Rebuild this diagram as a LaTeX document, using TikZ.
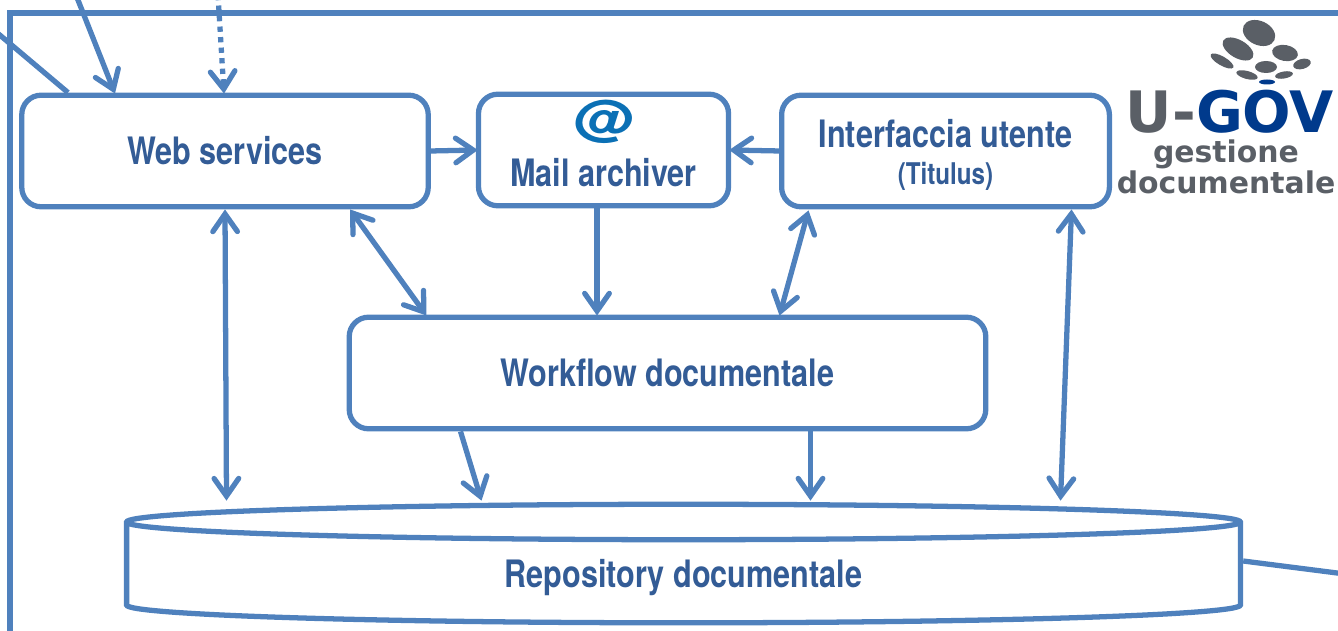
\documentclass[tikz,border=0pt]{standalone}
\usepackage{fontspec}
\setmainfont{TeX Gyre Heros}
\newfontfamily\logofont{DejaVu Sans}
\usetikzlibrary{arrows.meta,shapes.geometric}
\definecolor{linecol}{HTML}{4F81BD}
\definecolor{textcol}{HTML}{335C96}
\definecolor{logogray}{HTML}{5A5F66}
\definecolor{logoblue}{HTML}{003A8C}
\definecolor{atblue}{HTML}{0B70B5}
\newcommand{\narrow}[1]{\scalebox{0.81}[1]{#1}}
\tikzset{
    box/.style={draw=linecol, line width=3pt, rounded corners=11pt, fill=white, align=center, text=textcol, font=\bfseries\fontsize{21.5}{25}\selectfont},
    line/.style={draw=linecol, line width=3pt},
    arrow/.style={line, -{Straight Barb[length=10pt,width=14pt,line cap=round]}},
    biarrow/.style={line, {Straight Barb[length=10pt,width=14pt,line cap=round]}-{Straight Barb[length=10pt,width=14pt,line cap=round]}},
    logoblob/.style={fill=logogray, draw=none}
}

\begin{document}
\begin{tikzpicture}[x=0.02cm, y=-0.02cm]
    \useasboundingbox (0,0) rectangle (1338,631);
    \clip (0,0) rectangle (1338,631);
    % frame
    \coordinate (framebl) at (10,640);
    \coordinate (frametl) at (10,13);
    \coordinate (frametr) at (1345,13);
    \draw[line] (framebl) -- (frametl) -- (frametr);
    % nodes
    \node (web) [box, minimum width=408*0.567pt, minimum height=112*0.567pt] at (225,151) {\narrow{Web services}};
    \node (mail) [box, minimum width=251*0.567pt, minimum height=112*0.567pt] at (603.5,150) {\\[17pt]\narrow{Mail archiver}};
    \node (mailicon) [text=atblue, font=\bfseries\fontsize{28}{28}\selectfont, inner sep=0pt] at (603,122) {\scalebox{1.25}[1]{@}};
    \node (gui) [box, minimum width=329*0.567pt, minimum height=112*0.567pt] at (945.5,151) {\\[-5pt]\narrow{Interfaccia utente}\\[-4pt]{\fontsize{17}{18}\selectfont \narrow{(Titulus)}}};
    \node (flow) [box, minimum width=639*0.567pt, minimum height=112*0.567pt] at (667.5,373) {\narrow{Workflow documentale}};
    \node (repo) [cylinder, shape border rotate=90, shape aspect=0.096, draw=linecol, line width=3pt, fill=white, text=textcol, align=center, font=\bfseries\fontsize{21.5}{25}\selectfont, minimum width=1118*0.567pt, minimum height=119*0.567pt] at (683.5,575) {\\[-6pt]\narrow{Repository documentale}};
    % logo
    \fill[logoblob] (1259,33) ellipse [x radius=17, y radius=12, rotate=-25];
    \fill[logoblob] (1238,49) ellipse [x radius=17, y radius=9, rotate=-30];
    \fill[logoblob] (1285,53) ellipse [x radius=13, y radius=8, rotate=-10];
    \fill[logoblob] (1222,61) ellipse [x radius=13, y radius=4.5, rotate=-30];
    \fill[logoblob] (1266,67) ellipse [x radius=11, y radius=6];
    \fill[logoblob] (1302,64) ellipse [x radius=9, y radius=5, rotate=15];
    \fill[logoblob] (1247,75) ellipse [x radius=11, y radius=4, rotate=-15];
    \fill[logoblob] (1284,75) ellipse [x radius=9, y radius=3.5, rotate=10];
    \fill[logoblue] (1267,82) ellipse [x radius=8, y radius=2.5];
    \node (ugov) [font=\logofont\bfseries\fontsize{32.5}{32}\selectfont, text=logogray, inner sep=0pt] at (1230,112) {U-\textcolor{logoblue}{GOV}};
    \node (ugovname) [font=\logofont\bfseries\fontsize{17}{14.5}\selectfont, text=logogray, align=center, inner sep=0pt] at (1226,167) {gestione\\documentale};
    % free ends
    \coordinate (wsin) at (76,-5);
    \coordinate (wsdot) at (218,-5);
    \coordinate (wsline) at (-5,31);
    \coordinate (repoout) at (1345,574);
    % arrows
    \draw[line] (wsline) -- ([shift={(-157,0)}]web.north);
    \draw[arrow] (wsin) -- ([shift={(-110,1)}]web.north);
    \draw[arrow, dash pattern=on 3pt off 3pt] (wsdot) -- ([shift={(-1,1)}]web.north);
    \draw[arrow] ([shift={(205,0)}]web.center) -- ([shift={(2,0)}]mail.west);
    \draw[arrow] ([shift={(-165,0)}]gui.center) -- ([shift={(-2,0)}]mail.east);
    \draw[arrow] (mail.south -| 597,0) -- ([shift={(0,1)}]flow.north -| 597,0);
    \draw[biarrow] (web.south) -- ([shift={(-457,-1)}]repo.north);
    \draw[biarrow] ([shift={(125,0)}]web.south) -- ([shift={(-241,1)}]flow.north);
    \draw[biarrow] ([shift={(-137,1)}]gui.south) -- ([shift={(112,1)}]flow.north);
    \draw[biarrow] ([shift={(126,0)}]gui.south) -- ([shift={(377,-1)}]repo.north);
    \draw[arrow] ([shift={(-207,0)}]flow.south) -- ([shift={(-202,-1)}]repo.north);
    \draw[arrow] ([shift={(143,0)}]flow.south) -- ([shift={(127,-1)}]repo.north);
    \draw[line] (repo.east |- 0,561) -- (repoout);
\end{tikzpicture}
\end{document}
